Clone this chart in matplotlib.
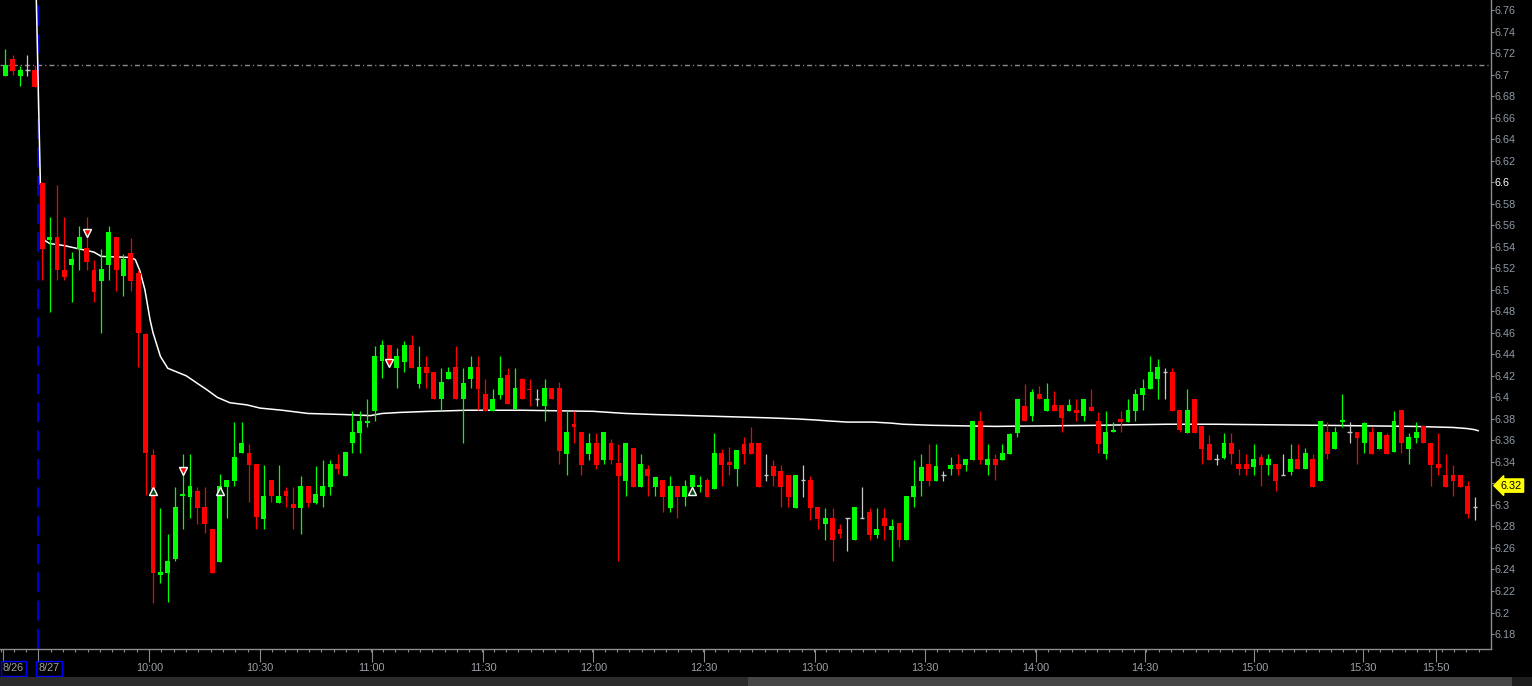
import numpy as np
import matplotlib
matplotlib.use('Agg')
import matplotlib.pyplot as plt
from matplotlib.patches import Rectangle
from matplotlib.transforms import blended_transform_factory

plt.rcParams['font.family'] = ['Liberation Sans', 'DejaVu Sans']

# 2-minute bars: last five bars of 8/26, then the 8/27 session (bar index on x)
opens = [6.699, 6.714, 6.699, 6.704, 6.704,
         6.599, 6.546, 6.549, 6.518, 6.523, 6.538, 6.539, 6.518, 6.508, 6.523,
         6.549, 6.513, 6.534, 6.516, 6.459, 6.346, 6.235, 6.237, 6.250, 6.308,
         6.307, 6.313, 6.298, 6.278, 6.247, 6.317, 6.322, 6.348, 6.348, 6.338,
         6.287, 6.323, 6.302, 6.313, 6.301, 6.297, 6.318, 6.302, 6.308, 6.317,
         6.338, 6.327, 6.358, 6.367, 6.376, 6.387, 6.434, 6.449, 6.427, 6.433,
         6.449, 6.412, 6.428, 6.424, 6.398, 6.417, 6.428, 6.398, 6.417, 6.428,
         6.403, 6.387, 6.402, 6.421, 6.389, 6.417, 6.408, 6.398, 6.392, 6.409,
         6.409, 6.347, 6.375, 6.368, 6.347, 6.358, 6.342, 6.358, 6.339, 6.322,
         6.353, 6.317, 6.333, 6.317, 6.323, 6.297, 6.318, 6.307, 6.317, 6.317,
         6.323, 6.315, 6.348, 6.340, 6.333, 6.357, 6.358, 6.358, 6.328, 6.336,
         6.332, 6.328, 6.297, 6.323, 6.323, 6.298, 6.282, 6.288, 6.278, 6.288,
         6.267, 6.288, 6.293, 6.272, 6.288, 6.277, 6.283, 6.267, 6.307, 6.322,
         6.338, 6.322, 6.328, 6.333, 6.338, 6.337, 6.342, 6.378, 6.337, 6.343,
         6.342, 6.347, 6.367, 6.392, 6.383, 6.403, 6.387, 6.393, 6.393, 6.387,
         6.388, 6.383, 6.391, 6.378, 6.347, 6.368, 6.380, 6.377, 6.387, 6.402,
         6.408, 6.417, 6.424, 6.424, 6.388, 6.367, 6.398, 6.373, 6.357, 6.343,
         6.344, 6.358, 6.338, 6.338, 6.335, 6.345, 6.337, 6.338, 6.328, 6.331,
         6.343, 6.333, 6.343, 6.322, 6.368, 6.352, 6.377, 6.368, 6.368, 6.358,
         6.368, 6.352, 6.365, 6.349, 6.388, 6.352, 6.362, 6.373, 6.358, 6.338,
         6.328, 6.328, 6.328, 6.318, 6.298]
highs = [6.724, 6.718, 6.708, 6.718, 6.709,
         6.600, 6.568, 6.597, 6.568, 6.535, 6.559, 6.568, 6.528, 6.538, 6.559,
         6.549, 6.533, 6.548, 6.518, 6.460, 6.352, 6.297, 6.273, 6.317, 6.347,
         6.347, 6.317, 6.317, 6.278, 6.329, 6.323, 6.377, 6.377, 6.357, 6.338,
         6.337, 6.323, 6.337, 6.317, 6.317, 6.327, 6.318, 6.336, 6.342, 6.342,
         6.347, 6.349, 6.387, 6.387, 6.398, 6.448, 6.453, 6.449, 6.446, 6.452,
         6.458, 6.448, 6.438, 6.424, 6.427, 6.428, 6.448, 6.427, 6.438, 6.438,
         6.417, 6.408, 6.438, 6.427, 6.427, 6.418, 6.417, 6.408, 6.417, 6.409,
         6.414, 6.387, 6.387, 6.368, 6.367, 6.367, 6.368, 6.361, 6.357, 6.358,
         6.353, 6.347, 6.337, 6.326, 6.323, 6.327, 6.318, 6.323, 6.328, 6.327,
         6.325, 6.367, 6.352, 6.354, 6.351, 6.363, 6.372, 6.358, 6.347, 6.342,
         6.337, 6.328, 6.328, 6.337, 6.327, 6.298, 6.297, 6.297, 6.282, 6.288,
         6.298, 6.317, 6.297, 6.297, 6.297, 6.287, 6.283, 6.308, 6.342, 6.347,
         6.357, 6.357, 6.332, 6.345, 6.347, 6.343, 6.378, 6.387, 6.357, 6.347,
         6.357, 6.367, 6.398, 6.412, 6.408, 6.411, 6.413, 6.406, 6.393, 6.398,
         6.398, 6.398, 6.408, 6.386, 6.387, 6.377, 6.387, 6.398, 6.408, 6.417,
         6.438, 6.436, 6.427, 6.427, 6.388, 6.408, 6.398, 6.373, 6.365, 6.347,
         6.367, 6.367, 6.352, 6.347, 6.357, 6.347, 6.347, 6.338, 6.347, 6.357,
         6.357, 6.353, 6.347, 6.378, 6.377, 6.372, 6.403, 6.377, 6.368, 6.377,
         6.372, 6.368, 6.367, 6.387, 6.388, 6.367, 6.377, 6.373, 6.358, 6.367,
         6.347, 6.337, 6.328, 6.322, 6.307]
lows = [6.699, 6.700, 6.689, 6.699, 6.688,
        6.509, 6.479, 6.509, 6.509, 6.489, 6.518, 6.518, 6.489, 6.460, 6.509,
        6.499, 6.494, 6.499, 6.428, 6.309, 6.209, 6.227, 6.210, 6.248, 6.278,
        6.288, 6.282, 6.274, 6.237, 6.247, 6.288, 6.318, 6.348, 6.303, 6.278,
        6.278, 6.303, 6.302, 6.298, 6.278, 6.273, 6.298, 6.301, 6.298, 6.309,
        6.329, 6.327, 6.348, 6.348, 6.372, 6.378, 6.418, 6.430, 6.409, 6.424,
        6.427, 6.409, 6.409, 6.398, 6.388, 6.417, 6.398, 6.358, 6.409, 6.388,
        6.387, 6.387, 6.398, 6.394, 6.389, 6.398, 6.392, 6.392, 6.378, 6.398,
        6.338, 6.328, 6.358, 6.328, 6.342, 6.333, 6.338, 6.338, 6.248, 6.308,
        6.317, 6.317, 6.308, 6.308, 6.293, 6.293, 6.288, 6.299, 6.312, 6.312,
        6.307, 6.315, 6.318, 6.328, 6.318, 6.338, 6.347, 6.317, 6.322, 6.318,
        6.298, 6.298, 6.297, 6.307, 6.286, 6.278, 6.267, 6.248, 6.269, 6.257,
        6.267, 6.288, 6.267, 6.269, 6.267, 6.248, 6.261, 6.267, 6.298, 6.308,
        6.318, 6.322, 6.322, 6.328, 6.328, 6.332, 6.342, 6.338, 6.328, 6.323,
        6.342, 6.347, 6.363, 6.378, 6.378, 6.398, 6.387, 6.387, 6.368, 6.387,
        6.378, 6.378, 6.387, 6.348, 6.343, 6.368, 6.368, 6.377, 6.378, 6.388,
        6.408, 6.398, 6.398, 6.387, 6.368, 6.367, 6.367, 6.338, 6.342, 6.337,
        6.343, 6.338, 6.328, 6.328, 6.328, 6.318, 6.328, 6.313, 6.328, 6.328,
        6.333, 6.333, 6.317, 6.322, 6.343, 6.352, 6.372, 6.358, 6.338, 6.348,
        6.347, 6.352, 6.347, 6.349, 6.348, 6.338, 6.358, 6.358, 6.318, 6.328,
        6.317, 6.308, 6.317, 6.288, 6.286]
closes = [6.709, 6.703, 6.704, 6.704, 6.688,
          6.538, 6.549, 6.518, 6.512, 6.529, 6.549, 6.526, 6.498, 6.519, 6.554,
          6.518, 6.529, 6.508, 6.460, 6.348, 6.237, 6.238, 6.248, 6.298, 6.310,
          6.318, 6.297, 6.282, 6.237, 6.318, 6.323, 6.345, 6.358, 6.337, 6.289,
          6.308, 6.308, 6.308, 6.308, 6.297, 6.318, 6.302, 6.310, 6.318, 6.338,
          6.333, 6.349, 6.368, 6.378, 6.378, 6.438, 6.449, 6.436, 6.438, 6.449,
          6.427, 6.428, 6.423, 6.398, 6.414, 6.424, 6.398, 6.413, 6.428, 6.408,
          6.387, 6.398, 6.418, 6.394, 6.409, 6.398, 6.407, 6.398, 6.409, 6.398,
          6.350, 6.368, 6.372, 6.337, 6.358, 6.337, 6.368, 6.342, 6.327, 6.358,
          6.317, 6.338, 6.327, 6.326, 6.307, 6.318, 6.307, 6.318, 6.328, 6.318,
          6.307, 6.348, 6.337, 6.337, 6.351, 6.347, 6.347, 6.317, 6.328, 6.327,
          6.317, 6.307, 6.328, 6.323, 6.297, 6.287, 6.288, 6.267, 6.273, 6.288,
          6.298, 6.288, 6.272, 6.278, 6.280, 6.280, 6.267, 6.308, 6.318, 6.335,
          6.322, 6.336, 6.328, 6.337, 6.333, 6.343, 6.378, 6.342, 6.343, 6.337,
          6.348, 6.366, 6.398, 6.378, 6.405, 6.398, 6.398, 6.387, 6.381, 6.393,
          6.385, 6.398, 6.387, 6.357, 6.368, 6.369, 6.377, 6.388, 6.403, 6.409,
          6.424, 6.428, 6.424, 6.387, 6.370, 6.388, 6.367, 6.352, 6.342, 6.343,
          6.358, 6.347, 6.333, 6.333, 6.343, 6.337, 6.343, 6.322, 6.328, 6.343,
          6.333, 6.348, 6.317, 6.378, 6.347, 6.368, 6.379, 6.368, 6.362, 6.376,
          6.347, 6.368, 6.347, 6.378, 6.358, 6.363, 6.368, 6.358, 6.337, 6.334,
          6.317, 6.322, 6.317, 6.292, 6.298]

# moving average line (vertices along the bar index)
ma_idx = [4.1, 4.75, 5.0, 5.3, 6, 8, 10, 12, 13, 17, 17.6, 18.2, 18.9, 19.6, 20,
          21, 22, 24.5, 26, 27.3, 28.7, 30.4, 32.7, 34.5, 37.5, 41, 46, 49.4,
          51, 53.5, 57.5, 62.5, 70, 79.6, 84, 88, 93, 98, 103, 107, 109.6,
          111.6, 114, 117.5, 120, 121.5, 125.5, 134, 147.5, 157.3, 164, 178,
          190.6, 196, 197.9, 198.9, 199.4]
ma_val = [6.80, 6.598, 6.596, 6.546, 6.543, 6.541, 6.538, 6.535, 6.531, 6.530,
          6.528, 6.518, 6.500, 6.472, 6.460, 6.438, 6.427, 6.420, 6.413, 6.407,
          6.400, 6.395, 6.393, 6.390, 6.388, 6.385, 6.384, 6.383, 6.385, 6.386,
          6.387, 6.388, 6.388, 6.387, 6.385, 6.384, 6.383, 6.382, 6.381, 6.380,
          6.379, 6.378, 6.377, 6.377, 6.376, 6.375, 6.374, 6.373, 6.374, 6.375,
          6.375, 6.374, 6.373, 6.372, 6.371, 6.370, 6.369]

# signal markers
sell_idx = [11, 24, 52]
sell_val = [6.553, 6.332, 6.432]
buy_idx = [20, 29, 93]
buy_val = [6.313, 6.313, 6.313]

prior_close = 6.709
last_price = 6.318
session_start = 4.47

xtick_pos = [-0.35, 4.47, 19.5, 34.5, 49.6, 64.7, 79.6, 94.6, 109.6, 124.5,
             139.5, 154.3, 169.1, 183.8, 193.7]
xtick_lbl = ['8/26', '8/27', '10:00', '10:30', '11:00', '11:30', '12:00', '12:30',
             '13:00', '13:30', '14:00', '14:30', '15:00', '15:30', '15:50']

fig = plt.figure(figsize=(15.32, 6.86), dpi=100, facecolor='black')
ax = fig.add_axes([0, 37 / 686, 1490.7 / 1532, 649 / 686])
ax.set_facecolor('black')

x = np.arange(len(opens))
o, h, l, c = map(np.array, (opens, highs, lows, closes))
colors = np.where(c > o, '#00ff00', np.where(c < o, '#ff0000', '#c8c8c8'))

ax.axhline(prior_close, color='#8c8c8c', lw=1, dashes=(3.6, 2.2, 0.8, 2.2), zorder=1)
ax.axvline(session_start, color='#0000ff', lw=1.2, dashes=(12, 5), zorder=1.5)
ax.plot(ma_idx, ma_val, color='white', lw=1.1, zorder=2)

ax.vlines(x, l, h, colors=colors, lw=0.9, zorder=3)
body = np.abs(c - o)
flat = body == 0
ax.bar(x[~flat], np.maximum(body[~flat], 0.0012), bottom=np.minimum(o, c)[~flat],
       width=0.66, color=colors[~flat], linewidth=0, zorder=4)
ax.hlines(c[flat], x[flat] - 0.3, x[flat] + 0.3, colors=colors[flat], lw=1, zorder=4)

ax.plot(sell_idx, sell_val, 'v', ms=6, mfc='#ff0000', mec='white', mew=1, zorder=5)
ax.plot(buy_idx, buy_val, '^', ms=6, mfc='#0a4a0a', mec='white', mew=1, zorder=5)

ax.set_xlim(-0.718, 201.1)
ax.set_ylim(6.1661, 6.7693)

for s in ('left', 'top'):
    ax.spines[s].set_visible(False)
for s in ('bottom', 'right'):
    ax.spines[s].set_color('#8c8c8c')
    ax.spines[s].set_linewidth(1)

ax.set_xticks(xtick_pos)
ax.set_xticklabels(xtick_lbl)
ax.set_xticks(np.arange(session_start - 3 * 15 / 9, 201, 15 / 9), minor=True)
ax.tick_params(axis='x', which='major', length=9.4, width=0.8, color='#8c8c8c',
               labelsize=7.8, labelcolor='#9ea3a8', pad=1)
ax.tick_params(axis='x', which='minor', length=2.5, width=0.8, color='#8c8c8c')
for lab in ax.get_xticklabels()[:2]:
    lab.set_ha('left')
    lab.set_bbox(dict(boxstyle='square,pad=0.2', fc='none', ec='#0000ff', lw=1))

# y labels; the one under the last-price flag is hidden as on the original
yt = np.arange(6.18, 6.7601, 0.02)
ylabels = [f"{v:.2f}".rstrip('0').rstrip('.') for v in yt]
ylabels = ['' if abs(v - 6.32) < 1e-6 else s for v, s in zip(yt, ylabels)]
ax.yaxis.tick_right()
ax.set_yticks(yt)
ax.set_yticklabels(ylabels)
ax.tick_params(axis='y', length=2, width=0.8, color='#8c8c8c',
               labelsize=7.8, labelcolor='#8f9aa6', pad=0.5)
for lab, v in zip(ax.get_yticklabels(), yt):
    if abs(v - 6.6) < 1e-6:
        lab.set_color('white')

trans = blended_transform_factory(ax.transAxes, ax.transData)
ax.text(1.0068, last_price, '6.32', transform=trans, ha='left', va='center',
        fontsize=7.8, color='black', clip_on=False, zorder=10,
        bbox=dict(boxstyle='larrow,pad=0.15', fc='#ffff00', ec='#ffff00'))

# scroll bar strip at the bottom
fig.add_artist(Rectangle((0, 0), 748 / 1532, 9 / 686, transform=fig.transFigure,
                         fc='#2b2b2b', ec='none'))
fig.add_artist(Rectangle((748 / 1532, 0), 764 / 1532, 9 / 686, transform=fig.transFigure,
                         fc='#454545', ec='none'))
fig.add_artist(Rectangle((1512 / 1532, 0), 20 / 1532, 9 / 686, transform=fig.transFigure,
                         fc='#1e1e1e', ec='none'))

fig.savefig('out.png', dpi=100, facecolor='black')
